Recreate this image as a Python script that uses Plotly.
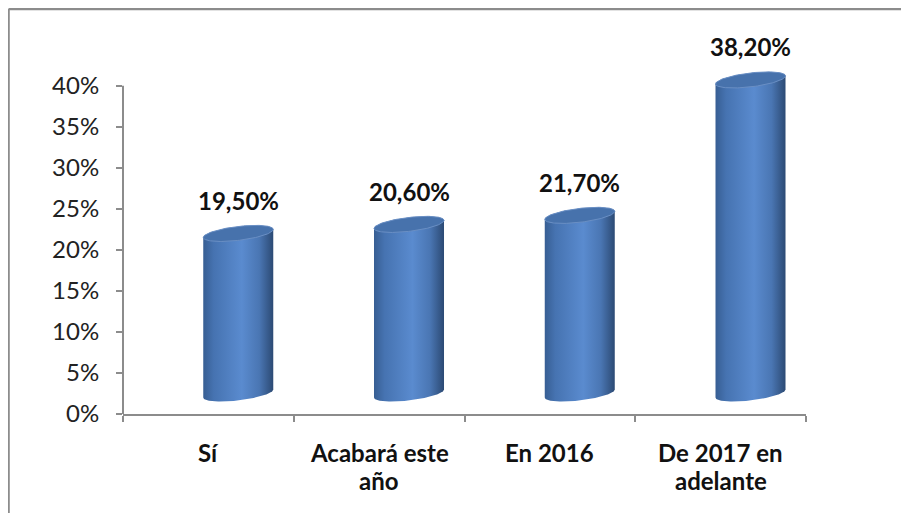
import numpy as np
import plotly.graph_objects as go

categories = ["Sí", "Acabará este año", "En 2016", "De 2017 en adelante"]
label_line1 = ["Sí", "Acabará este", "En 2016", "De 2017 en"]
label_line2 = ["", "año", "", "adelante"]
values = [0.195, 0.206, 0.217, 0.382]
value_labels = ["19,50%", "20,60%", "21,70%", "38,20%"]
y_ticks = [0.0, 0.05, 0.10, 0.15, 0.20, 0.25, 0.30, 0.35, 0.40]
y_tick_text = ["0%", "5%", "10%", "15%", "20%", "25%", "30%", "35%", "40%"]

# 3D cylinder look (style constants)
SHIFT = 0.175   # perspective shift of the bars to the right (category units)
A = 0.205       # cylinder half width (category units)
DEPTH = 0.025   # perspective lift
B = 0.0085      # ellipse half height
TILT = 0.0049   # ellipse tilt

GRAY = "#8c8c8c"
FONT = "Lato"
FS = 24

body_scale = [[0.0, "#375e93"], [0.15, "#4673b1"], [0.55, "#5a8bcf"],
              [0.8, "#4a76b3"], [1.0, "#2c4a74"]]

fig = go.Figure()
for i, v in enumerate(values):
    cx = i + SHIFT
    tf = np.linspace(np.pi, 2 * np.pi, 60)
    tb = np.linspace(0, np.pi, 60)
    bx = cx + A * np.cos(tf)
    by = DEPTH + B * np.sin(tf) + TILT * np.cos(tf)
    tx = cx + A * np.cos(tb)
    ty = v + DEPTH + B * np.sin(tb) + TILT * np.cos(tb)
    xs = np.concatenate([bx, tx, bx[:1]])
    ys = np.concatenate([by, ty, by[:1]])
    fig.add_trace(go.Scatter(
        x=xs, y=ys, mode="lines", fill="toself",
        line=dict(width=0, color="#4a76b3"),
        fillgradient=dict(type="horizontal", colorscale=body_scale),
        hoverinfo="skip", showlegend=False))
    ta = np.linspace(0, 2 * np.pi, 120)
    ex = cx + A * np.cos(ta)
    ey = v + DEPTH + B * np.sin(ta) + TILT * np.cos(ta)
    fig.add_trace(go.Scatter(
        x=ex, y=ey, mode="lines", fill="toself",
        line=dict(width=1, color="#6a8fc4"),
        fillcolor="#4772ac",
        hoverinfo="skip", showlegend=False))

annotations = []
for i, v in enumerate(values):
    annotations.append(dict(
        x=i + SHIFT, y=v + DEPTH, xref="x", yref="y", text=f"<b>{value_labels[i]}</b>",
        showarrow=False, yanchor="middle", yshift=33,
        font=dict(family=FONT, size=FS, color="#111111")))
for i in range(len(categories)):
    annotations.append(dict(
        x=i, y=0, xref="x", yref="y", text=f"<b>{label_line1[i]}</b>",
        showarrow=False, yanchor="middle", yshift=-38,
        font=dict(family=FONT, size=FS, color="#111111")))
    if label_line2[i]:
        annotations.append(dict(
            x=i, y=0, xref="x", yref="y", text=f"<b>{label_line2[i]}</b>",
            showarrow=False, yanchor="middle", yshift=-66,
            font=dict(family=FONT, size=FS, color="#111111")))

n = len(categories)
fig.update_layout(
    width=909, height=513, autosize=False,
    margin=dict(l=115, r=111, t=12, b=107, pad=0),
    paper_bgcolor="white", plot_bgcolor="white",
    annotations=annotations,
    xaxis=dict(range=[-0.5, n - 0.5], showgrid=False, zeroline=False,
               showline=True, linecolor=GRAY, linewidth=2,
               tickvals=list(np.arange(n + 1) - 0.5), ticks="outside",
               ticklen=6, tickwidth=2, tickcolor=GRAY, showticklabels=False,
               fixedrange=True),
    yaxis=dict(range=[0, 0.48], showgrid=False, zeroline=False, showline=False,
               tickvals=y_ticks, ticktext=y_tick_text, ticks="outside",
               ticklen=6, tickwidth=2, tickcolor=GRAY, ticklabelstandoff=12,
               tickfont=dict(family=FONT, size=FS, color="#222222"),
               fixedrange=True),
    shapes=[
        dict(type="line", xref="paper", yref="y", x0=0, x1=0,
             y0=0, y1=max(y_ticks), line=dict(color=GRAY, width=2)),
        dict(type="line", xref="paper", yref="paper", x0=-0.1676, x1=1.3,
             y0=1.028, y1=1.028, line=dict(color=GRAY, width=2.5)),
        dict(type="line", xref="paper", yref="paper", x0=-0.1676, x1=-0.1676,
             y0=1.028, y1=-0.3, line=dict(color=GRAY, width=2.5)),
    ],
)

fig.write_html("out.html")
